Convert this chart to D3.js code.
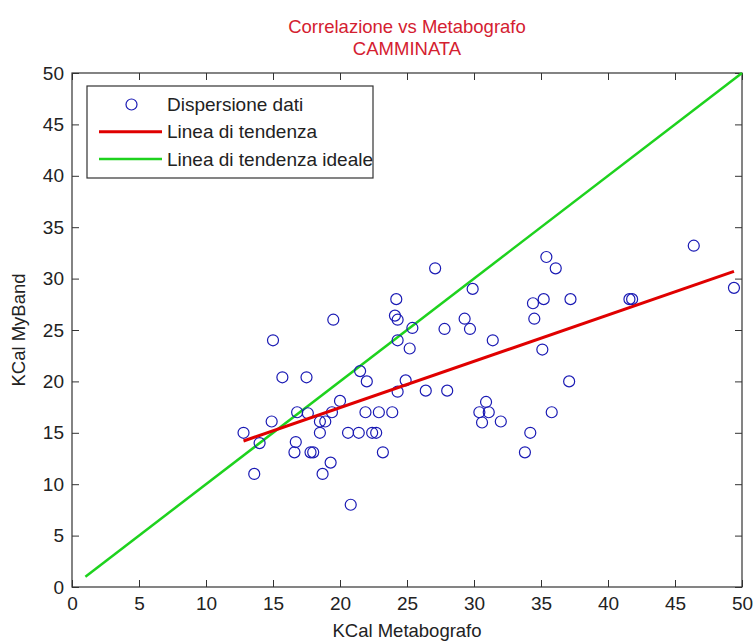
<!DOCTYPE html>
<html>
<head>
<meta charset="utf-8">
<script src="https://cdn.jsdelivr.net/npm/d3@7"></script>
<style>
  body { margin: 0; background: #fff; }
  svg { display: block; font-family: "Liberation Sans", Arial, sans-serif; }
  .tick line { stroke: #333; }
  .tick text { fill: #222; }
</style>
</head>
<body>
<div id="chart"></div>
<script>
// data (KCal metabografo vs KCal MyBand)
const metabografo = [
  12.8, 13.6, 14.0, 14.9, 15.0, 15.7, 16.6, 16.7, 16.8, 17.5,
  17.6, 17.8, 18.0, 18.5, 18.5, 18.7, 18.9, 19.3, 19.4, 19.5,
  20.0, 20.6, 20.8, 21.4, 21.5, 21.9, 22.0, 22.4, 22.7, 22.9,
  23.2, 23.9, 24.2, 24.1, 24.3, 24.3, 24.3, 24.9, 25.2, 25.4,
  26.4, 27.1, 27.8, 28.0, 29.3, 29.7, 29.9, 30.4, 30.6, 30.9,
  31.1, 31.4, 32.0, 33.8, 34.2, 34.4, 34.5, 35.1, 35.2, 35.4,
  35.8, 36.1, 37.1, 37.2, 41.6, 41.8, 46.4, 49.4
];
const myband = [
  15.0, 11.0, 14.0, 16.1, 24.0, 20.4, 13.1, 14.1, 17.0, 20.4,
  16.9, 13.1, 13.1, 16.1, 15.0, 11.0, 16.1, 12.1, 17.0, 26.0,
  18.1, 15.0, 8.0, 15.0, 21.0, 17.0, 20.0, 15.0, 15.0, 17.0,
  13.1, 17.0, 28.0, 26.4, 26.0, 24.0, 19.0, 20.1, 23.2, 25.2,
  19.1, 31.0, 25.1, 19.1, 26.1, 25.1, 29.0, 17.0, 16.0, 18.0,
  17.0, 24.0, 16.1, 13.1, 15.0, 27.6, 26.1, 23.1, 28.0, 32.1,
  17.0, 31.0, 20.0, 28.0, 28.0, 28.0, 33.2, 29.1
];
// trend line endpoints and ideal line
const trendX = [12.8, 49.4];
const trendY = [14.2, 30.7];
const idealX = [1, 50];
const idealY = [1, 50];
const ticks = [0, 5, 10, 15, 20, 25, 30, 35, 40, 45, 50];
const legendLabels = ["Dispersione dati", "Linea di tendenza", "Linea di tendenza ideale"];
const titleLines = ["Correlazione vs Metabografo", "CAMMINATA"];

const W = 753;
const H = 641;
const LEFT = 72;
const RIGHT = 742;
const TOP = 73;
const BOTTOM = 587;
const TICK = 7;

const BLUE = "#1a1ab4";
const RED = "#e00000";
const GREEN = "#1ed21e";

const points = metabografo.map((d, i) => ({ x: d, y: myband[i] }));

const $svg = d3.select("#chart").append("svg")
  .attr("width", W)
  .attr("height", H);

// scales
const scaleX = d3.scaleLinear().domain([0, 50]).range([LEFT, RIGHT]);
const scaleY = d3.scaleLinear().domain([0, 50]).range([BOTTOM, TOP]);

// axes, ticks pointing inward like matlab
function styleAxis($g, size) {
  $g.select(".domain").remove();
  $g.selectAll(".tick text").attr("font-size", size).attr("font-family", null);
  $g.attr("font-family", null);
}

const $bottom = $svg.append("g")
  .attr("transform", `translate(0, ${BOTTOM})`)
  .call(d3.axisBottom(scaleX).tickValues(ticks).tickSize(-TICK).tickPadding(10));
styleAxis($bottom, 19);

const $leftAx = $svg.append("g")
  .attr("transform", `translate(${LEFT}, 0)`)
  .call(d3.axisLeft(scaleY).tickValues(ticks).tickSize(-TICK).tickPadding(8));
styleAxis($leftAx, 19);

const $topAx = $svg.append("g")
  .attr("transform", `translate(0, ${TOP})`)
  .call(d3.axisTop(scaleX).tickValues(ticks).tickSize(-TICK).tickFormat(""));
styleAxis($topAx, 0);

const $rightAx = $svg.append("g")
  .attr("transform", `translate(${RIGHT}, 0)`)
  .call(d3.axisRight(scaleY).tickValues(ticks).tickSize(-TICK).tickFormat(""));
styleAxis($rightAx, 0);

// plot box
$svg.append("rect")
  .attr("x", LEFT)
  .attr("y", TOP)
  .attr("width", RIGHT - LEFT)
  .attr("height", BOTTOM - TOP)
  .attr("fill", "none")
  .attr("stroke", "#333")
  .attr("stroke-width", 1.2);

// lines
const line = d3.line().x(d => scaleX(d[0])).y(d => scaleY(d[1]));

$svg.append("path")
  .datum(idealX.map((d, i) => [d, idealY[i]]))
  .attr("d", line)
  .attr("fill", "none")
  .attr("stroke", GREEN)
  .attr("stroke-width", 2.5);

// scatter
$svg.append("g")
  .selectAll("circle")
  .data(points)
  .join("circle")
  .attr("cx", d => scaleX(d.x))
  .attr("cy", d => scaleY(d.y))
  .attr("r", 5.5)
  .attr("fill", "none")
  .attr("stroke", BLUE)
  .attr("stroke-width", 1.2);

$svg.append("path")
  .datum(trendX.map((d, i) => [d, trendY[i]]))
  .attr("d", line)
  .attr("fill", "none")
  .attr("stroke", RED)
  .attr("stroke-width", 3);

// title
$svg.append("g")
  .selectAll("text")
  .data(titleLines)
  .join("text")
  .attr("x", (LEFT + RIGHT) / 2)
  .attr("y", (d, i) => 33 + i * 22)
  .attr("text-anchor", "middle")
  .attr("font-size", 18.5)
  .attr("fill", "#d42030")
  .text(d => d);

// axis labels
$svg.append("text")
  .attr("x", (LEFT + RIGHT) / 2)
  .attr("y", 637)
  .attr("text-anchor", "middle")
  .attr("font-size", 18.5)
  .attr("fill", "#222")
  .text("KCal Metabografo");

$svg.append("text")
  .attr("transform", `translate(25, ${(TOP + BOTTOM) / 2}) rotate(-90)`)
  .attr("text-anchor", "middle")
  .attr("font-size", 18.5)
  .attr("fill", "#222")
  .text("KCal MyBand");

// legend
const $legend = $svg.append("g").attr("class", "legend");
$legend.append("rect")
  .attr("x", 87)
  .attr("y", 86)
  .attr("width", 286)
  .attr("height", 92)
  .attr("fill", "#fff")
  .attr("stroke", "#333")
  .attr("stroke-width", 1.2);

const $rows = $legend.selectAll(".row")
  .data(legendLabels)
  .join("g")
  .attr("class", "row")
  .attr("transform", (d, i) => `translate(0, ${104.5 + i * 27.3})`);

$rows.append("text")
  .attr("x", 167)
  .attr("dy", "0.35em")
  .attr("font-size", 19)
  .attr("fill", "#222")
  .text(d => d);

$rows.filter((d, i) => i === 0)
  .append("circle")
  .attr("cx", 131.5)
  .attr("r", 5.5)
  .attr("fill", "none")
  .attr("stroke", BLUE)
  .attr("stroke-width", 1.2);

$rows.filter((d, i) => i > 0)
  .append("line")
  .attr("x1", 99)
  .attr("x2", 162)
  .attr("stroke", (d, i) => (i === 0 ? RED : GREEN))
  .attr("stroke-width", (d, i) => (i === 0 ? 3 : 2.5));
</script>
</body>
</html>
